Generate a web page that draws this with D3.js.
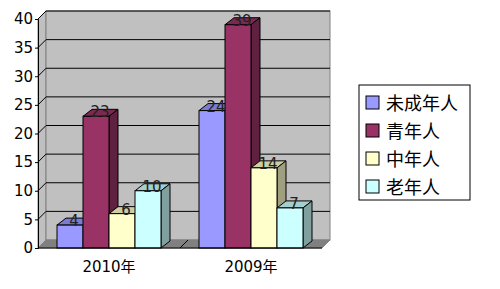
<!DOCTYPE html>
<html>
<head>
<meta charset="utf-8">
<script src="https://cdn.jsdelivr.net/npm/d3@7"></script>
<style>
  body { margin: 0; background: #fff; }
  text { font-family: "DejaVu Sans", "Noto Sans CJK SC", sans-serif; }
</style>
</head>
<body>
<div id="chart"></div>
<script>
// 数据
const categories = ['2010年', '2009年'];
const seriesNames = ['未成年人', '青年人', '中年人', '老年人'];
const seriesValues = [
  [4, 24],   // 未成年人
  [23, 39],  // 青年人
  [6, 14],   // 中年人
  [10, 7]    // 老年人
];
const yTicks = [0, 5, 10, 15, 20, 25, 30, 35, 40];

const colors = ['#9999ff', '#993366', '#ffffcc', '#ccffff'];

const W = 500, H = 289;
const svg = d3.select('#chart').append('svg')
  .attr('width', W).attr('height', H);

// profundidade 3D
const dx = 8, dy = -8;      // paredes
const bdx = 9, bdy = -7;    // barras

const x0 = d3.scaleBand().domain(categories).range([38, 322]);
const x1 = d3.scaleBand().domain(seriesNames).range([0, x0.bandwidth()]).paddingOuter(0.5 * 0.55 / 0.55 * 0.5);
const y = d3.scaleLinear().domain([0, 40]).range([248, 19]);

// ajusta subbanda: 4 barras de ~26px centradas
const barW = 26;
function barX(ci, si) {
  const c = x0(categories[ci]) + x0.bandwidth() / 2;
  return c - barW * 2 + si * barW;
}

const left = x0.range()[0], right = x0.range()[1];
const y0 = y(0), yTop = y(40);

// parede lateral esquerda
svg.append('path')
  .attr('d', `M${left},${y0} L${left},${yTop} L${left + dx},${yTop + dy} L${left + dx},${y0 + dy} Z`)
  .attr('fill', '#c0c0c0').attr('stroke', '#808080').attr('stroke-width', 1);

// parede do fundo
svg.append('rect')
  .attr('x', left + dx).attr('y', yTop + dy)
  .attr('width', right - left).attr('height', y0 - yTop)
  .attr('fill', '#c0c0c0').attr('stroke', '#808080').attr('stroke-width', 1);

// chão
svg.append('path')
  .attr('d', `M${left},${y0} L${left + dx},${y0 + dy} L${right + dx},${y0 + dy} L${right},${y0} Z`)
  .attr('fill', '#808080').attr('stroke', '#808080');

// linhas de grade (fundo + lateral)
const grid = svg.append('g');
yTicks.filter(t => t > 0).forEach(t => {
  grid.append('line')
    .attr('x1', left + dx).attr('x2', right + dx)
    .attr('y1', y(t) + dy).attr('y2', y(t) + dy)
    .attr('stroke', '#000').attr('stroke-width', 1);
  grid.append('line')
    .attr('x1', left).attr('x2', left + dx)
    .attr('y1', y(t)).attr('y2', y(t) + dy)
    .attr('stroke', '#000').attr('stroke-width', 1);
});
// divisória das categorias no chão
grid.append('line')
  .attr('x1', x0(categories[1])).attr('x2', x0(categories[1]) + dx)
  .attr('y1', y0).attr('y2', y0 + dy)
  .attr('stroke', '#000');

// eixo Y
const yAxis = svg.append('g')
  .attr('transform', `translate(${left},0)`)
  .call(d3.axisLeft(y).tickValues(yTicks).tickSize(3).tickPadding(2));
yAxis.select('.domain').attr('stroke', '#000');
yAxis.selectAll('text').style('font-size', '15px').attr('fill', '#000')
  .attr('font-family', '"DejaVu Sans", sans-serif');

// barras
const darker = (c, k) => d3.color(c).darker(k).formatHex();
seriesNames.forEach((s, si) => {
  seriesValues[si].forEach((v, ci) => {
    const xb = barX(ci, si);
    const yb = y(v);
    const g = svg.append('g');
    // topo
    g.append('path')
      .attr('d', `M${xb},${yb} L${xb + bdx},${yb + bdy} L${xb + barW + bdx},${yb + bdy} L${xb + barW},${yb} Z`)
      .attr('fill', darker(colors[si], 0.6)).attr('stroke', '#000').attr('stroke-width', 1);
    // lado
    g.append('path')
      .attr('d', `M${xb + barW},${yb} L${xb + barW + bdx},${yb + bdy} L${xb + barW + bdx},${y0 + bdy} L${xb + barW},${y0} Z`)
      .attr('fill', darker(colors[si], 1.3)).attr('stroke', '#000').attr('stroke-width', 1);
    // frente
    g.append('rect')
      .attr('x', xb).attr('y', yb).attr('width', barW).attr('height', y0 - yb)
      .attr('fill', colors[si]).attr('stroke', '#000').attr('stroke-width', 1);
  });
});

// rótulos de valor
seriesNames.forEach((s, si) => {
  seriesValues[si].forEach((v, ci) => {
    svg.append('text')
      .attr('x', barX(ci, si) + barW / 2 + 4)
      .attr('y', y(v) + 1)
      .attr('text-anchor', 'middle')
      .style('font-size', '15px')
      .attr('fill', '#222')
      .text(v);
  });
});

// eixo X (linha frontal)
svg.append('line')
  .attr('x1', left).attr('x2', right).attr('y1', y0).attr('y2', y0)
  .attr('stroke', '#000');
categories.forEach(c => {
  svg.append('text')
    .attr('x', x0(c) + x0.bandwidth() / 2)
    .attr('y', 272)
    .attr('text-anchor', 'middle')
    .style('font-size', '15px')
    .text(c);
});

// legenda
const legend = svg.append('g').attr('transform', 'translate(359,85)');
legend.append('rect').attr('width', 111).attr('height', 115)
  .attr('fill', '#fff').attr('stroke', '#000');
seriesNames.forEach((s, i) => {
  const row = legend.append('g').attr('transform', `translate(0,${18 + i * 28})`);
  row.append('rect').attr('x', 7).attr('y', -7).attr('width', 13).attr('height', 13)
    .attr('fill', colors[i]).attr('stroke', '#000');
  row.append('text').attr('x', 27).attr('y', 7)
    .style('font-size', '18px')
    .attr('font-family', '"Noto Sans CJK SC", sans-serif')
    .text(s);
});
</script>
</body>
</html>
